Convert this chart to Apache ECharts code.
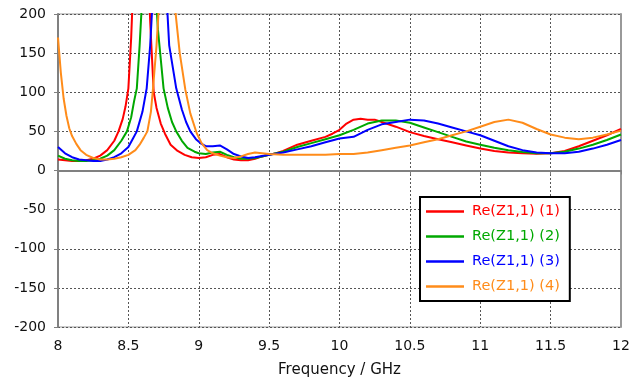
<!DOCTYPE html>
<html>
<head>
<meta charset="utf-8">
<script src="https://cdn.jsdelivr.net/npm/echarts@6/dist/echarts.min.js"></script>
<style>
    html, body { margin: 0; padding: 0; background: #fff; }
    #chart { width: 643px; height: 383px; }
</style>
</head>
<body>
<div id="chart"></div>
<script>
// 频率 / GHz 与 Re(Z1,1) 数值（从原图读取，峰顶超出 200 的部分被裁掉）
const freq1 = [8.00, 8.05, 8.10, 8.15, 8.20, 8.25, 8.30, 8.35, 8.40, 8.43, 8.46, 8.48, 8.50, 8.52, 8.535, 8.59, 8.645, 8.655, 8.68, 8.70, 8.73, 8.76, 8.80, 8.85, 8.90, 8.95, 9.00, 9.05, 9.10, 9.15, 9.20, 9.25, 9.30, 9.35, 9.40, 9.45, 9.50, 9.55, 9.60, 9.70, 9.80, 9.90, 9.95, 10.00, 10.05, 10.10, 10.15, 10.20, 10.25, 10.30, 10.40, 10.50, 10.60, 10.70, 10.80, 10.90, 11.00, 11.10, 11.20, 11.30, 11.40, 11.50, 11.60, 11.70, 11.80, 11.90, 12.00];
const re1 = [14, 13, 12, 12, 13, 15, 19, 26, 38, 50, 66, 82, 105, 170, 240, 400, 240, 190, 100, 80, 60, 47, 33, 25, 20, 17, 16, 17, 20, 21, 17, 14, 13, 13, 15, 18, 20, 22, 25, 33, 38, 43, 47, 52, 60, 65, 66, 65, 65, 62, 56, 49, 44, 40, 36, 32, 28, 25, 23, 22, 21.5, 22, 25, 31, 38, 45, 53];

const freq2 = [8.00, 8.05, 8.10, 8.15, 8.20, 8.25, 8.30, 8.35, 8.40, 8.45, 8.49, 8.52, 8.54, 8.56, 8.58, 8.595, 8.645, 8.70, 8.71, 8.75, 8.78, 8.81, 8.84, 8.88, 8.92, 8.97, 9.00, 9.05, 9.10, 9.15, 9.20, 9.25, 9.30, 9.35, 9.40, 9.45, 9.50, 9.55, 9.60, 9.70, 9.80, 9.90, 10.00, 10.10, 10.20, 10.30, 10.40, 10.50, 10.60, 10.70, 10.80, 10.90, 11.00, 11.10, 11.20, 11.30, 11.40, 11.50, 11.60, 11.70, 11.80, 11.90, 12.00];
const re2 = [19, 15, 13, 12, 12, 13, 15, 19, 26, 38, 50, 68, 88, 105, 160, 210, 400, 210, 180, 105, 80, 62, 50, 38, 29, 24, 22, 21, 23, 24, 20, 17, 15, 15, 16, 18, 20, 22, 24, 30, 35, 40, 45, 52, 60, 64, 64, 61, 55, 49, 43, 37, 33, 29, 26, 23.5, 22, 22, 24, 28, 33, 39, 46];

const freq3 = [8.00, 8.05, 8.10, 8.15, 8.20, 8.25, 8.30, 8.35, 8.40, 8.45, 8.50, 8.53, 8.56, 8.60, 8.63, 8.655, 8.67, 8.72, 8.775, 8.79, 8.84, 8.88, 8.91, 8.94, 8.98, 9.02, 9.05, 9.10, 9.15, 9.20, 9.25, 9.30, 9.35, 9.40, 9.50, 9.60, 9.70, 9.80, 9.90, 10.00, 10.10, 10.20, 10.30, 10.40, 10.50, 10.60, 10.70, 10.80, 10.90, 11.00, 11.10, 11.20, 11.30, 11.40, 11.50, 11.60, 11.70, 11.80, 11.90, 12.00];
const re3 = [30, 22, 17, 14, 13, 12, 12, 14, 17, 22, 30, 40, 50, 75, 105, 160, 210, 400, 210, 160, 105, 78, 62, 50, 40, 34, 31, 31, 32, 27, 21, 18, 16, 17, 20, 23, 27, 31, 36, 41, 43, 52, 59, 62, 65, 64, 60, 55, 50, 45, 38, 31, 26, 23, 22, 22, 24, 28, 33, 39];

const freq4 = [8.00, 8.02, 8.04, 8.06, 8.08, 8.10, 8.13, 8.16, 8.20, 8.25, 8.30, 8.35, 8.40, 8.45, 8.50, 8.55, 8.58, 8.61, 8.635, 8.66, 8.675, 8.70, 8.717, 8.77, 8.83, 8.865, 8.905, 8.94, 8.985, 9.02, 9.06, 9.10, 9.15, 9.20, 9.25, 9.30, 9.35, 9.40, 9.45, 9.50, 9.60, 9.70, 9.80, 9.90, 10.00, 10.10, 10.20, 10.30, 10.40, 10.50, 10.60, 10.70, 10.80, 10.90, 11.00, 11.10, 11.20, 11.30, 11.40, 11.50, 11.60, 11.70, 11.80, 11.90, 12.00];
const re4 = [170, 125, 92, 70, 54, 44, 34, 26, 20, 16, 14, 14, 15, 17, 20, 26, 33, 42, 50, 75, 105, 160, 210, 400, 210, 150, 103, 73, 48, 35, 26, 22, 19, 17, 16, 18, 21, 23, 22, 21, 20, 20, 20, 20, 21, 21, 23, 26, 29, 32, 36, 40, 45, 50, 56, 62, 65, 61, 53, 46, 42, 40, 42, 46, 51];

const seriesNames = ['Re(Z1,1) (1)', 'Re(Z1,1) (2)', 'Re(Z1,1) (3)', 'Re(Z1,1) (4)'];
const seriesColors = ['#ff0000', '#00a800', '#0000ff', '#ff8c1a'];
const xTicks = { min: 8, max: 12, interval: 0.5 };
const yTicks = { min: -200, max: 200, interval: 50 };

function pairs(xs, ys) {
    return xs.map((x, i) => [x, ys[i]]);
}

const allData = [pairs(freq1, re1), pairs(freq2, re2), pairs(freq3, re3), pairs(freq4, re4)];

const chart = echarts.init(document.getElementById('chart'));

const axisFont = { fontFamily: 'DejaVu Sans', fontSize: 14, color: '#111' };
const gridLine = { show: true, lineStyle: { color: '#555', width: 1, type: [2, 2] } };

chart.setOption({
    animation: false,
    backgroundColor: '#fff',
    grid: {
        left: 58, right: 22, top: 14, bottom: 56,
        show: true,
        borderColor: '#999',
        borderWidth: 1
    },
    legend: {
        orient: 'vertical',
        left: 420,
        top: 197,
        backgroundColor: '#fff',
        borderColor: '#000',
        borderWidth: 2,
        borderRadius: 0,
        padding: [7, 10, 7, 6],
        // 图例只画一段短横线
        icon: 'path://M0,0h38v2.5h-38z',
        itemWidth: 38,
        itemHeight: 14,
        itemGap: 10,
        data: seriesNames.map((n, i) => ({
            name: n,
            itemStyle: { color: seriesColors[i] },
            textStyle: { color: seriesColors[i] }
        })),
        textStyle: { fontFamily: 'DejaVu Sans', fontSize: 14.5, padding: [0, 0, 0, 3] }
    },
    xAxis: {
        type: 'value',
        min: xTicks.min,
        max: xTicks.max,
        interval: xTicks.interval,
        name: 'Frequency / GHz',
        nameLocation: 'middle',
        nameGap: 36,
        nameTextStyle: { fontFamily: 'DejaVu Sans', fontSize: 15, color: '#111' },
        axisLine: { lineStyle: { color: '#808080', width: 2 } },
        axisTick: { show: true, length: 4, lineStyle: { color: '#808080', width: 1 } },
        axisLabel: Object.assign({ margin: 12 }, axisFont),
        splitLine: gridLine
    },
    yAxis: [{
        type: 'value',
        min: yTicks.min,
        max: yTicks.max,
        interval: yTicks.interval,
        axisLine: { show: true, lineStyle: { color: '#808080', width: 2 } },
        axisTick: { show: true, length: 4, lineStyle: { color: '#808080', width: 1 } },
        axisLabel: Object.assign({ margin: 12 }, axisFont),
        splitLine: gridLine
    }, {
        type: 'value',
        position: 'right',
        min: yTicks.min,
        max: yTicks.max,
        interval: yTicks.interval,
        axisLine: { show: true, lineStyle: { color: '#999', width: 2 } },
        axisTick: { show: false },
        axisLabel: { show: false },
        splitLine: { show: false }
    }],
    series: allData.map((d, i) => ({
        name: seriesNames[i],
        type: 'line',
        data: d,
        symbol: 'none',
        clip: true,
        smooth: false,
        lineStyle: { color: seriesColors[i], width: 2 },
        itemStyle: { color: seriesColors[i] }
    }))
});
</script>
</body>
</html>
